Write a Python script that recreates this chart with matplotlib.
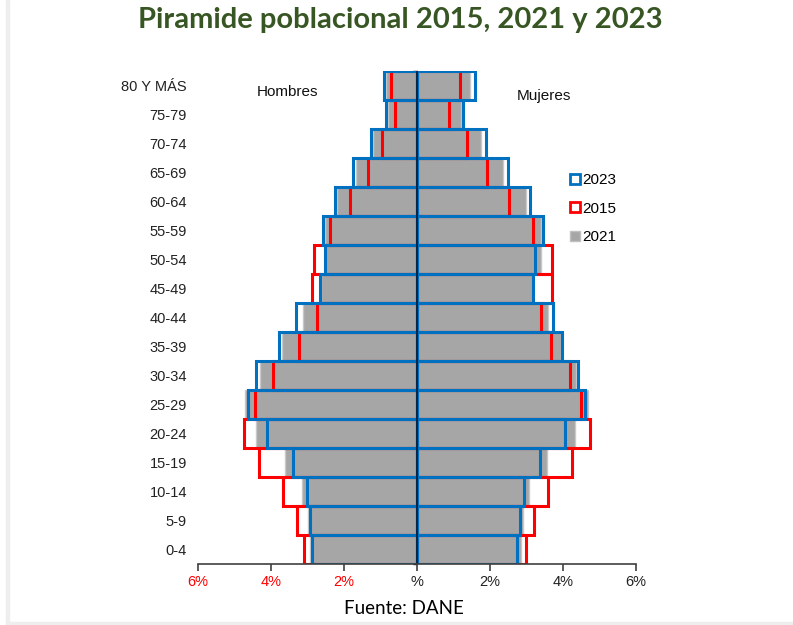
import matplotlib
matplotlib.use("Agg")
import matplotlib.pyplot as plt
from matplotlib.lines import Line2D
from matplotlib.patches import Rectangle
import numpy as np

# age groups, bottom to top
ages = ["0-4", "5-9", "10-14", "15-19", "20-24", "25-29", "30-34", "35-39",
        "40-44", "45-49", "50-54", "55-59", "60-64", "65-69", "70-74",
        "75-79", "80 Y MÁS"]

# percentages of total population
men2015 = [3.10, 3.29, 3.68, 4.33, 4.73, 4.44, 3.94, 3.23, 2.74, 2.88,
           2.83, 2.37, 1.83, 1.35, 0.95, 0.60, 0.70]
men2021 = [2.94, 2.98, 3.15, 3.61, 4.40, 4.70, 4.30, 3.71, 3.12, 2.62,
           2.52, 2.53, 2.20, 1.67, 1.20, 0.80, 0.86]
men2023 = [2.87, 2.92, 3.02, 3.41, 4.12, 4.64, 4.40, 3.79, 3.31, 2.67,
           2.53, 2.58, 2.25, 1.74, 1.26, 0.84, 0.90]

women2015 = [2.99, 3.20, 3.59, 4.26, 4.74, 4.50, 4.18, 3.66, 3.40, 3.69,
             3.69, 3.17, 2.52, 1.93, 1.36, 0.89, 1.19]
women2021 = [2.85, 2.90, 3.06, 3.56, 4.34, 4.68, 4.36, 3.95, 3.58, 3.17,
             3.40, 3.40, 2.99, 2.35, 1.74, 1.21, 1.44]
women2023 = [2.73, 2.81, 2.92, 3.36, 4.06, 4.59, 4.42, 3.98, 3.72, 3.19,
             3.22, 3.45, 3.10, 2.49, 1.88, 1.27, 1.58]

xticks = [-6, -4, -2, 0, 2, 4, 6]
xtick_labels = ["6%", "4%", "2%", "%", "2%", "4%", "6%"]

blue = "#0070c0"
red = "#ff0000"
gray = "#a6a6a6"
green = "#375623"

fig = plt.figure(figsize=(7.93, 6.25), dpi=100)
ax = fig.add_axes([0.2497, 0.0976, 0.5523, 0.7893])

y = np.arange(len(ages))
m15 = -np.array(men2015)
m21 = -np.array(men2021)
m23 = -np.array(men2023)

# 2021 filled gray
ax.barh(y, m21, height=1.0, color=gray, edgecolor="#c8c8c8", linewidth=1, zorder=2)
ax.barh(y, women2021, height=1.0, color=gray, edgecolor="#c8c8c8", linewidth=1, zorder=2)
# 2015 red outline
ax.barh(y, m15, height=1.0, fill=False, edgecolor=red, linewidth=2.2, zorder=3)
ax.barh(y, women2015, height=1.0, fill=False, edgecolor=red, linewidth=2.2, zorder=3)
# 2023 blue outline
ax.barh(y, m23, height=1.0, fill=False, edgecolor=blue, linewidth=2.2, zorder=4)
ax.barh(y, women2023, height=1.0, fill=False, edgecolor=blue, linewidth=2.2, zorder=4)

ax.set_xlim(-6, 6)
ax.set_ylim(-0.5, len(ages) - 0.5)

ax.axvline(0, color="#0a1e3c", linewidth=1.3, zorder=5)

ax.set_yticks(y)
ax.set_yticklabels(ages, fontsize=10.5, color="#222222", family="Liberation Sans")
ax.tick_params(axis="y", length=0, pad=8)

ax.set_xticks(xticks)
ax.set_xticklabels(xtick_labels, fontsize=10.5, family="Liberation Sans")
for lbl, t in zip(ax.get_xticklabels(), xticks):
    lbl.set_color(red if t < 0 else "#222222")
ax.tick_params(axis="x", length=5, color="#404040", width=1.2, pad=3)

for s in ["top", "right", "left"]:
    ax.spines[s].set_visible(False)
ax.spines["bottom"].set_color("#404040")
ax.spines["bottom"].set_linewidth(1.2)
ax.spines["bottom"].set_zorder(6)

# small ticks on the center axis
sec = ax.secondary_yaxis(0.5)
sec.set_yticks(np.arange(-0.5, len(ages), 0.5))
sec.set_yticklabels([])
sec.tick_params(axis="y", direction="in", length=3, width=1, color="black")
sec.spines["left"].set_visible(False)

ax.text(-3.55, 15.78, "Hombres", fontsize=11, family="Liberation Sans",
        ha="center", va="center", color="#111111")
ax.text(3.48, 15.64, "Mujeres", fontsize=11, family="Liberation Sans",
        ha="center", va="center", color="#111111")

handles = [
    Line2D([], [], marker="s", linestyle="none", markersize=6.5, mfc="white", mec=blue, mew=2),
    Line2D([], [], marker="s", linestyle="none", markersize=6.5, mfc="white", mec=red, mew=2),
    Line2D([], [], marker="s", linestyle="none", markersize=6.5, mfc=gray, mec="#c0c0c0", mew=1),
]
ax.legend(handles, ["2023", "2015", "2021"], loc="upper left",
          bbox_to_anchor=(0.82, 0.82), frameon=False, handlelength=0.6,
          handletextpad=0.15, labelspacing=0.95,
          prop={"family": "Liberation Sans", "size": 11})

fig.text(0.505, 0.968, "Piramide poblacional 2015, 2021 y 2023", fontsize=21,
         fontweight="bold", color=green, family="Lato", ha="center", va="center")
fig.text(0.509, 0.027, "Fuente: DANE", fontsize=13.5, family="Lato",
         ha="center", va="center", color="black")

# faint frame
fig.patches.append(Rectangle((6 / 793, 0), 2.5 / 793, 1, transform=fig.transFigure,
                             color="#eeeeee", zorder=0))
fig.patches.append(Rectangle((6 / 793, 0), 1, 3.5 / 625, transform=fig.transFigure,
                             color="#eeeeee", zorder=0))

fig.savefig("out.png", dpi=100)
